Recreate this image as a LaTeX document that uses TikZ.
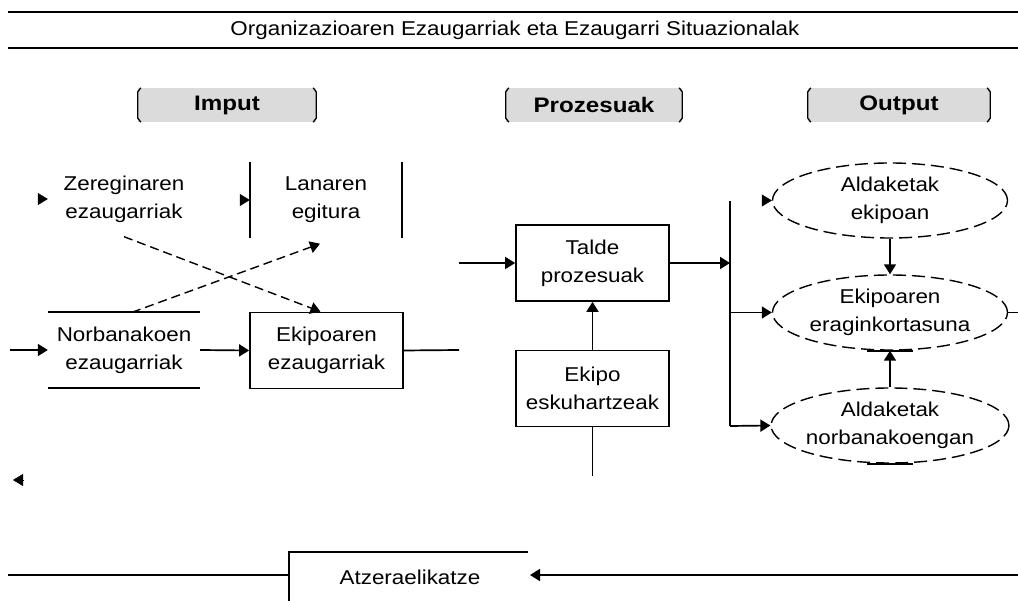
\documentclass[tikz,border=0pt]{standalone}
\usepackage{fontspec}
\setmainfont{Liberation Sans}[FakeStretch=1.12]
\newfontfamily\hdrfont{Liberation Sans}[FakeStretch=1.15]
\usetikzlibrary{arrows.meta,shapes.geometric}
\begin{document}
\begin{tikzpicture}[x=1pt,y=-1pt,
  txt/.style={align=center,font=\fontsize{20}{28}\selectfont,inner sep=0pt},
  hdr/.style={fill=black!14,minimum height=34pt,inner sep=0pt,font=\hdrfont\fontsize{21}{22}\selectfont\bfseries},
  ln/.style={line width=1.7pt},
  tip/.style={-{Triangle[length=10pt,width=12pt]}},
  frame/.style={txt,minimum width=152pt,minimum height=75pt},
  stepbox/.style={txt,draw,line width=1.7pt,minimum width=153pt,minimum height=76pt},
  oval/.style={txt,ellipse,draw,line width=1.4pt,dash pattern=on 13pt off 6pt,minimum width=235pt,minimum height=75pt},
  dsh/.style={line width=1.4pt,dash pattern=on 9pt off 5pt}
]
\useasboundingbox (0,0) rectangle (1018,601);

% title band
\draw[line width=1.7pt] (8,12) -- (1018,12);
\draw[line width=2.8pt] (8,48) -- (1018,48);
\node[txt] (title) at (515,30) {Organizazioaren Ezaugarriak eta Ezaugarri Situazionalak};

% column headers
\node[hdr,minimum width=178pt] (hin) at (227,105) {Imput};
\node[hdr,minimum width=176pt] (hpr) at (594,105) {Prozesuak};
\node[hdr,minimum width=182pt] (hout) at (899,105) {Output};
\foreach \h in {hin,hpr,hout}{
  \draw[line width=1.3pt] ([xshift=3pt]\h.north west) -- ([yshift=-4pt]\h.north west)
        -- ([yshift=4pt]\h.south west) -- ([xshift=3pt]\h.south west);
  \draw[line width=1.3pt] ([xshift=-3pt]\h.north east) -- ([yshift=-4pt]\h.north east)
        -- ([yshift=4pt]\h.south east) -- ([xshift=-3pt]\h.south east);
}

% input side
\node[frame] (zer) at (124,199) {Zereginaren\\ezaugarriak};
\node[frame] (lan) at (326,200) {Lanaren\\egitura};
\draw[ln] (lan.north west) -- (lan.south west);
\draw[ln] (lan.north east) -- (lan.south east);
\node[frame] (nor) at (124,350) {Norbanakoen\\ezaugarriak};
\draw[ln] (nor.north west) -- (nor.north east);
\draw[ln] (nor.south west) -- (nor.south east);
\node[stepbox] (eki) at (326.5,350.5) {Ekipoaren\\ezaugarriak};

\draw[tip] ([xshift=-10pt]zer.west) -- (zer.west);
\draw[tip] ([xshift=-10pt]lan.west) -- (lan.west);
\draw[dsh,tip] (zer.south) -- ([xshift=-6pt]eki.north);
\draw[dsh,tip] ([xshift=8pt]nor.north) -- ([xshift=-6pt,yshift=-6pt]lan.south);

\coordinate (norin) at (10,350);
\draw[ln,tip] (norin) -- (nor.west);
\draw[ln,tip] (nor.east) -- (eki.west);
\coordinate (ekiout) at (459,350);
\draw[ln] (eki.east) -- (ekiout);
\coordinate (lt) at (23,480);
\coordinate (lt2) at (13,480);
\draw[tip] (lt) -- (lt2);

% processes
\node[stepbox] (talde) at (592.5,263) {Talde\\prozesuak};
\node[stepbox] (esk) at (592.5,388.5) {Ekipo\\eskuhartzeak};
\coordinate (tin) at (459,263);
\draw[ln,tip] (tin) -- (talde.west);
\draw[ln,tip] (esk.north) -- (talde.south);
\coordinate (eskin) at (592.5,476);
\draw[ln] (eskin) -- (esk.south);

% output side
\node[oval] (o1) at (890,200.5) {Aldaketak\\ekipoan};
\node[oval] (o2) at (890,312.5) {Ekipoaren\\eraginkortasuna};
\node[oval] (o3) at (890,425.5) {Aldaketak\\norbanakoengan};
\coordinate (bt) at (730,201);
\coordinate (bb) at (730,426);
\draw[ln] (bt) -- (bb);
\draw[ln,tip] (talde.east) -- (talde.east -| bt);
\draw[ln,tip] (bt |- o2) -- (o2.west);
\draw[ln,tip] (bb) -- (o3.west);
\draw[tip] ([xshift=-10pt]o1.west) -- (o1.west);
\draw[ln,tip] (o1.south) -- (o2.north);
\draw[ln,tip] (o3.north) -- (o2.south);
\draw[ln] ([xshift=-23pt]o2.south) -- ([xshift=23pt]o2.south);
\draw[ln] ([xshift=-23pt]o3.south) -- ([xshift=23pt]o3.south);
\coordinate (re) at (1018,312.5);
\draw[ln] (o2.east) -- (re);

% feedback
\node[txt] (atz) at (410,577) {Atzeraelikatze};
\coordinate (bx1) at (289,552);
\coordinate (bx2) at (528,552);
\coordinate (bx3) at (289,601);
\draw[ln] (bx3) -- (bx1) -- (bx2);
\coordinate (fl) at (8,575);
\draw[ln] (fl) -- (bx1 |- fl);
\coordinate (fr) at (1018,575);
\coordinate (fa) at (530,575);
\draw[ln,tip] (fr) -- (fa);
\end{tikzpicture}
\end{document}
